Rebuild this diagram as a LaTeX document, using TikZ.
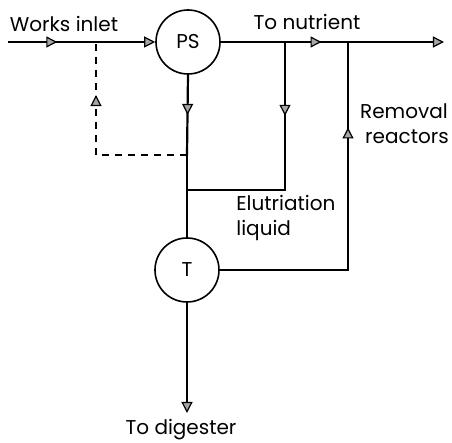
\documentclass[tikz,border=0pt]{standalone}
\usepackage{fontspec}
\setmainfont{Poppins}
\usepackage{tikz}
\usetikzlibrary{positioning,arrows.meta,decorations.markings}

\begin{document}
\begin{tikzpicture}[
    x=0.5pt, y=-0.5pt,
    tank/.style={draw, circle, line width=0.8pt, minimum size=32pt, inner sep=0pt,
                 font=\fontsize{10}{12}\selectfont},
    lbl/.style={font=\fontsize{10}{12.5}\selectfont, inner sep=0pt, align=left},
    pipe/.style={line width=1.1pt},
    ctl/.style={pipe, dash pattern=on 3.5pt off 3pt},
    tri/.tip={Triangle[fill=gray!70, length=5.5pt, width=5.5pt, line width=0.6pt]},
    flowat/.style={postaction={decorate},
                   decoration={markings, mark=at position #1 with {\arrow{tri}}}}
  ]
  \useasboundingbox (0,0) rectangle (452,443);

  \node[tank] (ps) at (188,42)  {PS};
  \node[tank] (tk) at (187,270) {T};

  \coordinate (inl)  at (8,42);
  \coordinate (jd)   at (96,42);
  \coordinate (j1)   at (285,42);
  \coordinate (j2)   at (348,42);
  \coordinate (outl) at (444,42);
  \coordinate (ja)   at (187,155);
  \coordinate (jb)   at (187,190);
  \coordinate (c1)   at (285,190);
  \coordinate (cd)   at (96,155);
  \coordinate (c2)   at (348,270);
  \coordinate (dig)  at (187,413);

  \node[lbl] (win)  at (64,24)   {Works inlet};
  \node[lbl] (tnut) at (307,22)  {To nutrient};
  \node[lbl, align=center] (rem) at (404,124) {Removal\\\hspace*{3pt}reactors};
  \node[lbl, anchor=west] (elu) at (236,218) {Elutriation\\liquid};
  \node[lbl] (tdig) at (181,430) {To digester};

  % main line
  \draw[pipe, flowat=0.56] (inl) -- (jd);
  \draw[pipe, -tri] (jd) -- (ps.west);
  \draw[pipe] (ps.east) -- (j1);
  \draw[pipe, flowat=0.58] (j1) -- (j2);
  \draw[pipe, -tri] (j2) -- (outl);

  % sludge to thickener
  \draw[pipe, flowat=0.5] (ps.south) -- (ja);
  \draw[pipe] (ja) -- (tk.north);
  \draw[pipe, flowat=0.3] (j1) -- (c1) -- (jb);
  \draw[pipe, flowat=0.76] (tk.east) -- (c2) -- (j2);
  \draw[pipe, -tri] (tk.south) -- (dig);

  % return line
  \draw[ctl, flowat=0.74] (ja) -- (cd) -- (jd);
\end{tikzpicture}
\end{document}
